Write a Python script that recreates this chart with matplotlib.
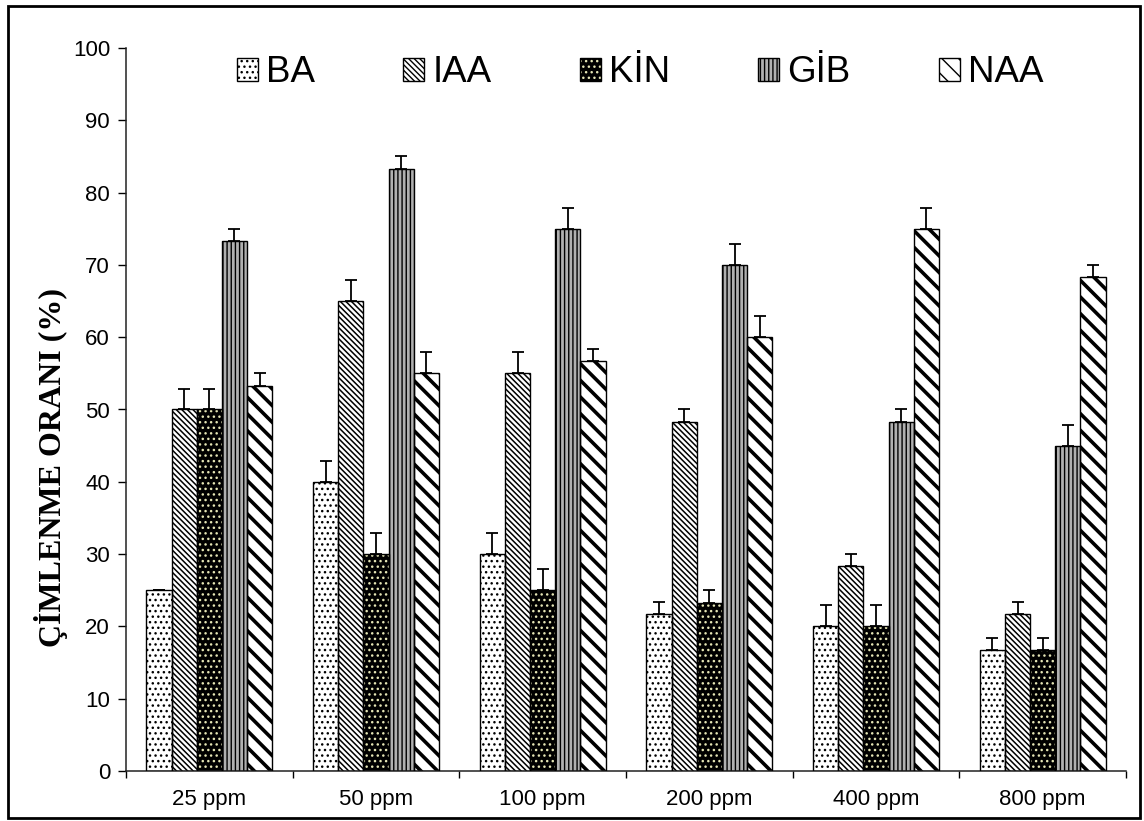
import numpy as np
import matplotlib.pyplot as plt
from matplotlib.patches import Rectangle
from matplotlib.legend_handler import HandlerTuple

# germination rate (%) per hormone at each concentration
doses = ["25 ppm", "50 ppm", "100 ppm", "200 ppm", "400 ppm", "800 ppm"]
hormones = ["BA", "IAA", "KİN", "GİB", "NAA"]

ba = [25.0, 40.0, 30.0, 21.7, 20.0, 16.7]
iaa = [50.0, 65.0, 55.0, 48.3, 28.3, 21.7]
kin = [50.0, 30.0, 25.0, 23.3, 20.0, 16.7]
gib = [73.3, 83.3, 75.0, 70.0, 48.3, 45.0]
naa = [53.3, 55.0, 56.7, 60.0, 75.0, 68.3]

ba_err = [0.0, 2.9, 2.9, 1.7, 2.9, 1.7]
iaa_err = [2.9, 2.9, 2.9, 1.7, 1.7, 1.7]
kin_err = [2.9, 2.9, 2.9, 1.7, 2.9, 1.7]
gib_err = [1.7, 1.7, 2.9, 2.9, 1.7, 2.9]
naa_err = [1.7, 2.9, 1.7, 2.9, 2.9, 1.7]

series = [ba, iaa, kin, gib, naa]
errors = [ba_err, iaa_err, kin_err, gib_err, naa_err]

# fill style for each hormone: face, hatch, hatch colour, hatch width
styles = [
    dict(face="white", hatch="...", hcol="black", hlw=1.0),
    dict(face="white", hatch="\\\\\\\\\\\\", hcol="black", hlw=1.1),
    dict(face="black", hatch="...", hcol="#e4e4b4", hlw=1.0),
    dict(face="#b0b0b0", hatch="||||", hcol="black", hlw=1.0),
    dict(face="white", hatch="\\\\", hcol="black", hlw=2.6),
]

plt.rcParams["font.family"] = ["Liberation Sans", "DejaVu Sans"]

fig = plt.figure(figsize=(11.44, 8.21), dpi=100)
ax = fig.add_axes([126 / 1144, 50 / 821, 1000 / 1144, 723 / 821])

x = np.arange(len(doses))
w = 0.151

handles = []
for i, (vals, err, st) in enumerate(zip(series, errors, styles)):
    pos = x + (i - 2) * w
    with plt.rc_context({"hatch.linewidth": st["hlw"]}):
        bars = ax.bar(pos, vals, w, color=st["face"], edgecolor=st["hcol"],
                      hatch=st["hatch"], linewidth=0, zorder=2)
    for b in bars:
        if hasattr(b, "set_hatch_linewidth"):
            b.set_hatch_linewidth(st["hlw"])
    # outline drawn separately so the hatch colour can differ from the edge
    outline = ax.bar(pos, vals, w, fill=False, edgecolor="black", linewidth=1.0,
                     zorder=3)
    ax.errorbar(pos, vals, yerr=[np.zeros(len(err)), err], fmt="none",
                ecolor="black", elinewidth=1.3, capsize=4, capthick=1.3, zorder=4)
    handles.append((bars[0], outline[0]))

ax.set_xlim(-0.5, len(doses) - 0.5)
ax.set_ylim(0, 100)
ax.set_yticks(np.arange(0, 101, 10))
ax.set_xticks(x)
ax.set_xticklabels(doses)
ax.set_xticks(np.arange(-0.5, len(doses), 1.0), minor=True)

ax.tick_params(axis="y", direction="out", length=5.5, width=1.0, pad=6, labelsize=16)
ax.tick_params(axis="x", which="major", length=0, pad=13, labelsize=16)
ax.tick_params(axis="x", which="minor", direction="out", length=5, width=1.0)

for side in ["top", "right"]:
    ax.spines[side].set_visible(False)
for side in ["left", "bottom"]:
    ax.spines[side].set_linewidth(1.1)
    ax.spines[side].set_color("#222222")

ax.set_ylabel("ÇİMLENME ORANI (%)", family="Liberation Serif", fontweight="bold",
              fontsize=23)
ax.yaxis.set_label_coords(-0.058, 0.42)

fig.legend(handles, hormones, loc="center", bbox_to_anchor=(640 / 1144, 1 - 73 / 821),
           ncol=5, frameon=False, fontsize=26.5, handlelength=0.57,
           handleheight=0.57, handletextpad=0.22, columnspacing=2.4,
           handler_map={tuple: HandlerTuple(ndivide=1, pad=0)})

# frame round the whole figure
fig.patches.append(Rectangle((8 / 1144, 3 / 821), 1132 / 1144, 812 / 821,
                             transform=fig.transFigure, fill=False,
                             edgecolor="black", linewidth=2.0))

fig.savefig("out.png", dpi=100)
